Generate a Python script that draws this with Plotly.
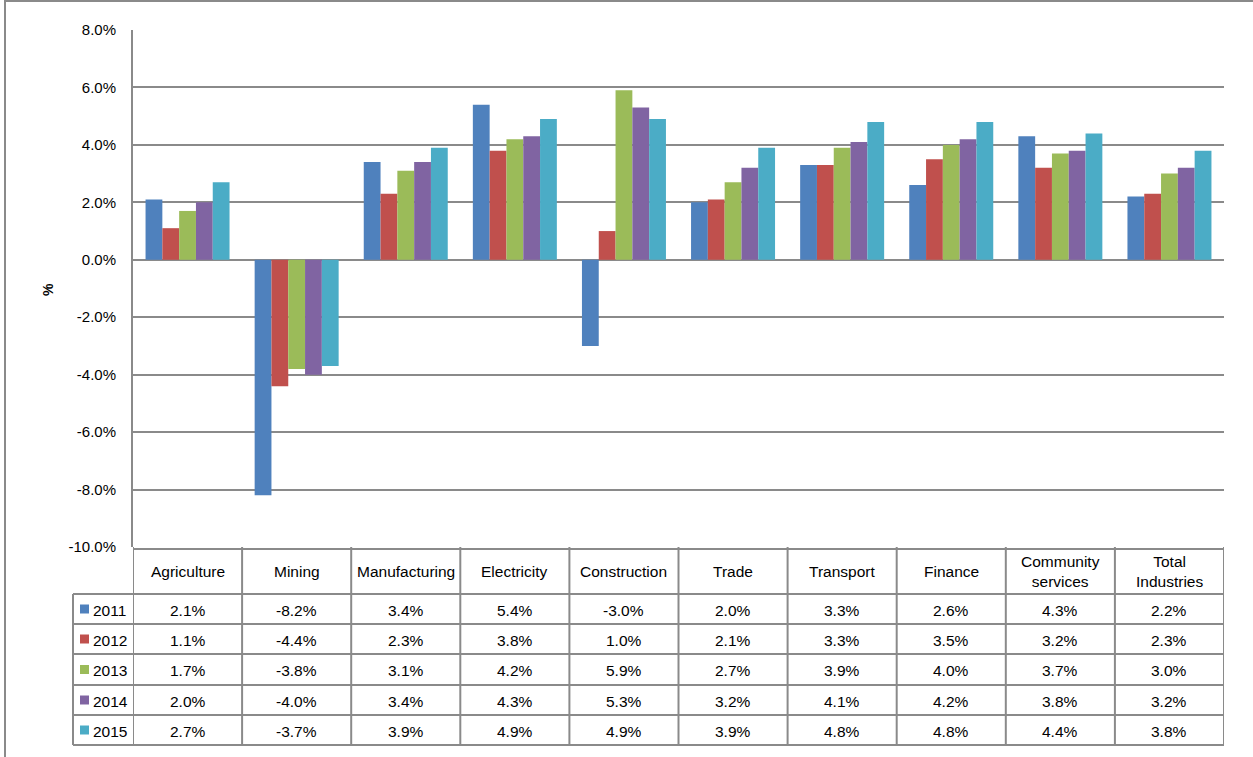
import plotly.graph_objects as go

categories = ["Agriculture", "Mining", "Manufacturing", "Electricity", "Construction",
              "Trade", "Transport", "Finance", "Community<br>services", "Total<br>Industries"]
years = ["2011", "2012", "2013", "2014", "2015"]
v2011 = [2.1, -8.2, 3.4, 5.4, -3.0, 2.0, 3.3, 2.6, 4.3, 2.2]
v2012 = [1.1, -4.4, 2.3, 3.8, 1.0, 2.1, 3.3, 3.5, 3.2, 2.3]
v2013 = [1.7, -3.8, 3.1, 4.2, 5.9, 2.7, 3.9, 4.0, 3.7, 3.0]
v2014 = [2.0, -4.0, 3.4, 4.3, 5.3, 3.2, 4.1, 4.2, 3.8, 3.2]
v2015 = [2.7, -3.7, 3.9, 4.9, 4.9, 3.9, 4.8, 4.8, 4.4, 3.8]
series = [v2011, v2012, v2013, v2014, v2015]
colors = ["#4F81BD", "#C0504D", "#9BBB59", "#8064A2", "#4BACC6"]
y_ticks = [8, 6, 4, 2, 0, -2, -4, -6, -8, -10]

W, H = 1253, 757
L, R, T, B = 133, 1224, 30, 547   # plot area in pixels
pw, ph = R - L, B - T

def px(x):
    return (x - L) / pw

def py(y):
    return (B - y) / ph

FONT = "Liberation Sans, Arial, sans-serif"
GRID = "#8a8a8a"

fig = go.Figure()
xs = list(range(len(categories)))
for yr, vals, c in zip(years, series, colors):
    fig.add_trace(go.Bar(x=xs, y=vals, name=yr, marker=dict(color=c, line=dict(width=0))))

shapes = []
annotations = []

header_top, header_bot = 547, 594
row_lines = [594, 624, 654, 685, 715, 745]
leg_left = 73

shapes.append(dict(type="line", xref="paper", yref="paper", x0=px(L), x1=px(R),
                   y0=py(header_top + 2), y1=py(header_top + 2), line=dict(color=GRID, width=2)))
for yl in row_lines:
    shapes.append(dict(type="line", xref="paper", yref="paper", x0=px(leg_left), x1=px(R),
                       y0=py(yl), y1=py(yl), line=dict(color=GRID, width=2)))
shapes.append(dict(type="line", xref="paper", yref="paper", x0=px(leg_left), x1=px(leg_left),
                   y0=py(header_bot), y1=py(row_lines[-1]), line=dict(color=GRID, width=2)))
for k in range(len(categories) + 1):
    shapes.append(dict(type="line", xref="x", yref="paper", x0=k - 0.5, x1=k - 0.5,
                       y0=py(header_top), y1=py(row_lines[-1]), line=dict(color=GRID, width=2)))

for i, cat in enumerate(categories):
    annotations.append(dict(x=i, y=py((header_top + header_bot) / 2 + 1), xref="x", yref="paper",
                            text=cat, showarrow=False, font=dict(size=15.5, color="#000", family=FONT),
                            xanchor="center", yanchor="middle"))

for r, (yr, vals, c) in enumerate(zip(years, series, colors)):
    yc = (row_lines[r] + row_lines[r + 1]) / 2
    shapes.append(dict(type="rect", xref="paper", yref="paper", x0=px(80), x1=px(89),
                       y0=py(yc - 4.5), y1=py(yc + 4.5), fillcolor=c, line=dict(width=0)))
    annotations.append(dict(x=px(91), y=py(yc + 1), xref="paper", yref="paper", text=yr,
                            showarrow=False, font=dict(size=15.5, color="#000", family=FONT),
                            xanchor="left", yanchor="middle"))
    for i, v in enumerate(vals):
        annotations.append(dict(x=i, y=py(yc + 1), xref="x", yref="paper", text=f"{v:.1f}%",
                                showarrow=False, font=dict(size=15.5, color="#000", family=FONT),
                                xanchor="center", yanchor="middle"))

# outer frame (top + left)
shapes.append(dict(type="line", xref="paper", yref="paper", x0=px(5), x1=px(5),
                   y0=py(0), y1=py(H), line=dict(color=GRID, width=2)))
shapes.append(dict(type="line", xref="paper", yref="paper", x0=px(5), x1=px(W),
                   y0=py(1), y1=py(1), line=dict(color=GRID, width=2)))

annotations.append(dict(x=px(48), y=py(290), xref="paper", yref="paper", text="<b>%</b>",
                        showarrow=False, textangle=-90, font=dict(size=14, color="#000", family=FONT),
                        xanchor="center", yanchor="middle"))

fig.update_layout(
    width=W, height=H,
    margin=dict(l=L, r=W - R, t=T, b=H - B, pad=0),
    paper_bgcolor="white", plot_bgcolor="white",
    barmode="group", bargap=0.23, bargroupgap=0,
    showlegend=False,
    shapes=shapes, annotations=annotations,
    font=dict(family=FONT, color="#000"),
)
fig.update_xaxes(range=[-0.5, len(categories) - 0.5], showticklabels=False, showgrid=False,
                 zeroline=False, showline=False, ticks="")
fig.update_yaxes(range=[-10, 8], tickvals=y_ticks, ticktext=[f"{t:.1f}%" for t in y_ticks],
                 showgrid=True, gridcolor=GRID, gridwidth=2, zeroline=True, zerolinecolor=GRID,
                 zerolinewidth=2, showline=True, linecolor=GRID, linewidth=2, ticks="",
                 ticklabelstandoff=12, tickfont=dict(size=15, color="#000", family=FONT))

fig.write_html("out.html", config={"displayModeBar": False},
               post_script="document.body.style.margin='0';document.body.style.overflow='hidden';")
